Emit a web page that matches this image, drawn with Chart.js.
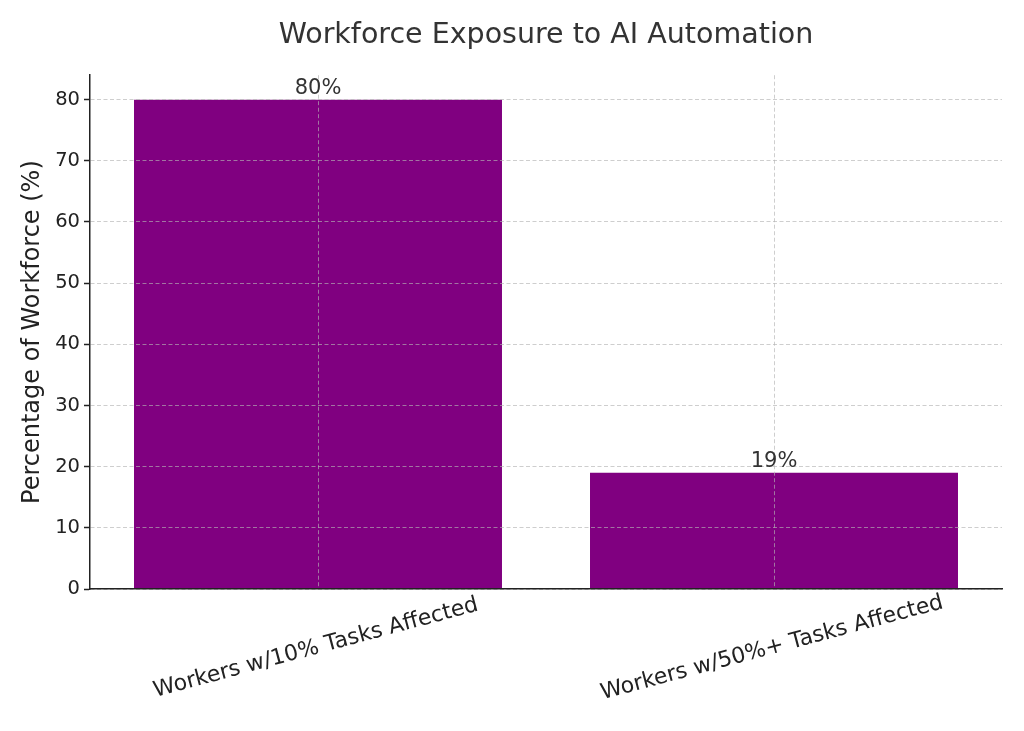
<!DOCTYPE html>
<html>
<head>
<meta charset="utf-8">
<script src="https://cdn.jsdelivr.net/npm/chart.js@4"></script>
<style>
  html, body { margin: 0; padding: 0; background: #fff; }
  #wrap { width: 1024px; height: 731px; }
</style>
</head>
<body>
<div id="wrap"><canvas id="grafico"></canvas></div>
<script>
// datos del grafico
const categorias = ['Workers w/10% Tasks Affected', 'Workers w/50%+ Tasks Affected'];
const porcentajes = [80, 19];
const etiquetasY = [0, 10, 20, 30, 40, 50, 60, 70, 80];

const fuente = 'DejaVu Sans';
const gridColor = 'rgba(180,180,180,0.65)';

// etiquetas de valor encima de cada barra y etiquetas del eje x rotadas
const etiquetasPlugin = {
  id: 'etiquetas',
  afterDraw(chart) {
    const ctx = chart.ctx;
    const meta = chart.getDatasetMeta(0);
    ctx.save();
    ctx.fillStyle = '#333';
    ctx.font = '21px "' + fuente + '"';
    ctx.textAlign = 'center';
    ctx.textBaseline = 'bottom';
    meta.data.forEach((bar, i) => {
      ctx.fillText(porcentajes[i] + '%', bar.x, bar.y - 1);
    });
    ctx.restore();

    const xs = chart.scales.x;
    ctx.save();
    ctx.fillStyle = '#222';
    ctx.font = '22px "' + fuente + '"';
    ctx.textAlign = 'center';
    ctx.textBaseline = 'middle';
    categorias.forEach((c, i) => {
      ctx.save();
      ctx.translate(xs.getPixelForTick(i) - 2, 648);
      ctx.rotate(-15 * Math.PI / 180);
      ctx.fillText(c, 0, 0);
      ctx.restore();
    });
    ctx.restore();
  }
};

const chart1 = new Chart(document.getElementById('grafico'), {
  type: 'bar',
  data: {
    labels: categorias,
    datasets: [{
      data: porcentajes,
      backgroundColor: '#800080',
      borderWidth: 0,
      categoryPercentage: 0.807,
      barPercentage: 1.0
    }]
  },
  options: {
    responsive: true,
    maintainAspectRatio: false,
    animation: false,
    layout: { padding: { left: 0, right: 22, top: 0, bottom: 0 } },
    plugins: {
      legend: { display: false },
      tooltip: { enabled: false },
      title: {
        display: true,
        fullSize: false,
        text: 'Workforce Exposure to AI Automation',
        color: '#333',
        font: { family: fuente, size: 28.5, weight: 'normal' },
        padding: { top: 18, bottom: 23 }
      }
    },
    scales: {
      x: {
        offset: true,
        grid: {
          z: 1,
          offset: false,
          color: gridColor,
          lineWidth: 1,
          drawTicks: false
        },
        border: { display: true, z: 2, color: '#222', width: 1.5, dash: [4, 2.5] },
        ticks: { display: false },
        afterFit(scale) { scale.height = 142; }
      },
      y: {
        min: 0,
        max: 84,
        afterBuildTicks(scale) {
          scale.ticks = etiquetasY.map(v => ({ value: v }));
        },
        grid: {
          z: 1,
          color: gridColor,
          lineWidth: 1,
          drawTicks: true,
          tickLength: 6,
          tickColor: '#222',
          tickWidth: 1.3,
          tickBorderDash: [1, 0]
        },
        border: { display: true, z: 2, color: '#222', width: 1.5, dash: [4, 2.5] },
        ticks: {
          color: '#222',
          padding: 4,
          font: { family: fuente, size: 19.5 }
        },
        title: {
          display: true,
          text: 'Percentage of Workforce (%)',
          color: '#222',
          font: { family: fuente, size: 24 },
          padding: { top: 18, bottom: 0 }
        },
        afterFit(scale) { scale.width = 90; }
      }
    }
  },
  plugins: [etiquetasPlugin]
});
</script>
</body>
</html>
